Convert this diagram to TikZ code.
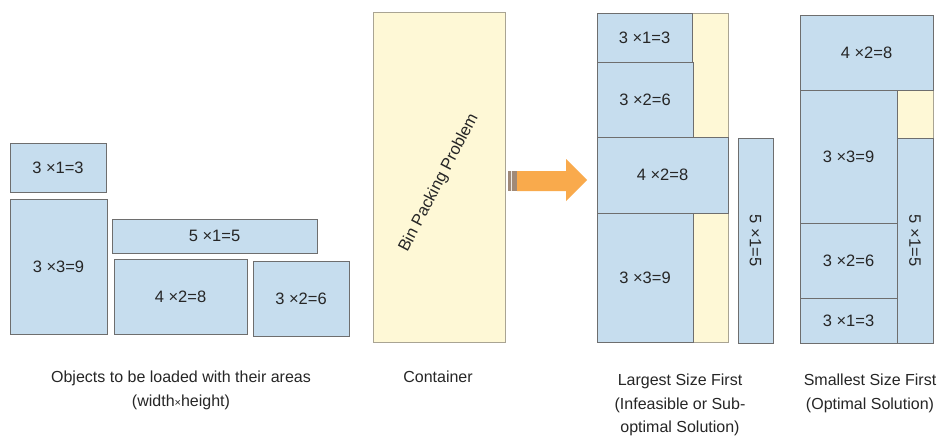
\documentclass[tikz,border=0pt]{standalone}
\usepackage{fontspec}
\setmainfont{Liberation Sans}
\definecolor{boxblue}{HTML}{C6DDEE}
\definecolor{boxedge}{HTML}{6E6E6E}
\definecolor{binfill}{HTML}{FEF8D6}
\definecolor{binedge}{HTML}{A9A493}
\definecolor{arroworange}{HTML}{F9AA4C}
\definecolor{arrowtail}{HTML}{A08A78}
\tikzset{
  lbl/.style={font=\fontsize{16.5}{18}\selectfont, text=black!85},
  blk/.style={draw=boxedge, fill=boxblue, line width=0.9pt, inner sep=0pt, outer sep=0pt,
    anchor=north west, lbl},
  bin/.style={draw=binedge, fill=binfill, line width=0.9pt, inner sep=0pt, outer sep=0pt,
    anchor=north west},
  captxt/.style={font=\fontsize{16}{23.5}\selectfont, text=black!85, align=center, anchor=north, inner sep=0pt}
}
\begin{document}
\begin{tikzpicture}[x=1pt,y=-1pt]
\useasboundingbox (0,0) rectangle (942,437);
\fill[white] (0,0) rectangle (942,437);

% objects to be loaded
\node[blk, minimum width=96, minimum height=49] (o31) at (10,143) {3 ×1=3};
\node[blk, minimum width=97, minimum height=135] (o33) at (10,199) {3 ×3=9};
\node[blk, minimum width=205, minimum height=34] (o51) at (112,219) {5 ×1=5};
\node[blk, minimum width=133, minimum height=75] (o42) at (114,259) {4 ×2=8};
\node[blk, minimum width=96, minimum height=75] (o32) at (253,261) {3 ×2=6};

% the container
\node[bin, minimum width=132, minimum height=330] (bin) at (373,12) {};
\node[rotate=62.5, lbl] (binlabel) at (439,183) {Bin Packing Problem};

% arrow
\fill[arroworange] (517,171) -- (566,171) -- (566,159) -- (587,180) -- (566,201) -- (566,191) -- (517,191) -- cycle;
\fill[arrowtail] (508,171) rectangle (517,191);
\draw[white!80!arrowtail, line width=0.6pt] (511,171) -- (511,191);

% largest size first
\node[bin, minimum width=131, minimum height=329] (binA) at (597,13) {};
\node[blk, minimum width=95, minimum height=49] (a31) at (597,13) {3 ×1=3};
\node[blk, minimum width=96, minimum height=75] (a32) at (597,62) {3 ×2=6};
\node[blk, minimum width=131, minimum height=76] (a42) at (597,137) {4 ×2=8};
\node[blk, minimum width=96, minimum height=129] (a33) at (597,213) {3 ×3=9};
\node[blk, minimum width=35, minimum height=205] (a51) at (738,138) {};
\node[rotate=-90, lbl] (a51t) at (a51.center) {5 ×1=5};

% smallest size first
\node[bin, minimum width=133, minimum height=328] (binB) at (800,15) {};
\node[blk, minimum width=133, minimum height=75] (b42) at (800,15) {4 ×2=8};
\node[blk, minimum width=97, minimum height=133] (b33) at (800,90) {3 ×3=9};
\node[blk, minimum width=97, minimum height=75] (b32) at (800,223) {3 ×2=6};
\node[blk, minimum width=97, minimum height=45] (b31) at (800,298) {3 ×1=3};
\node[blk, minimum width=36, minimum height=205] (b51) at (897,138) {};
\node[rotate=-90, lbl] (b51t) at (b51.center) {5 ×1=5};

% captions
\node[captxt] (c1) at (181,371) {Objects to be loaded with their areas\\(width{\fontsize{11}{12}\selectfont×}height)};
\node[captxt] (c2) at (438,371) {Container};
\node[captxt] (c3) at (680,374) {Largest Size First\\(Infeasible or Sub-\\optimal Solution)};
\node[captxt] (c4) at (870,374) {Smallest Size First\\(Optimal Solution)};
\end{tikzpicture}
\end{document}
